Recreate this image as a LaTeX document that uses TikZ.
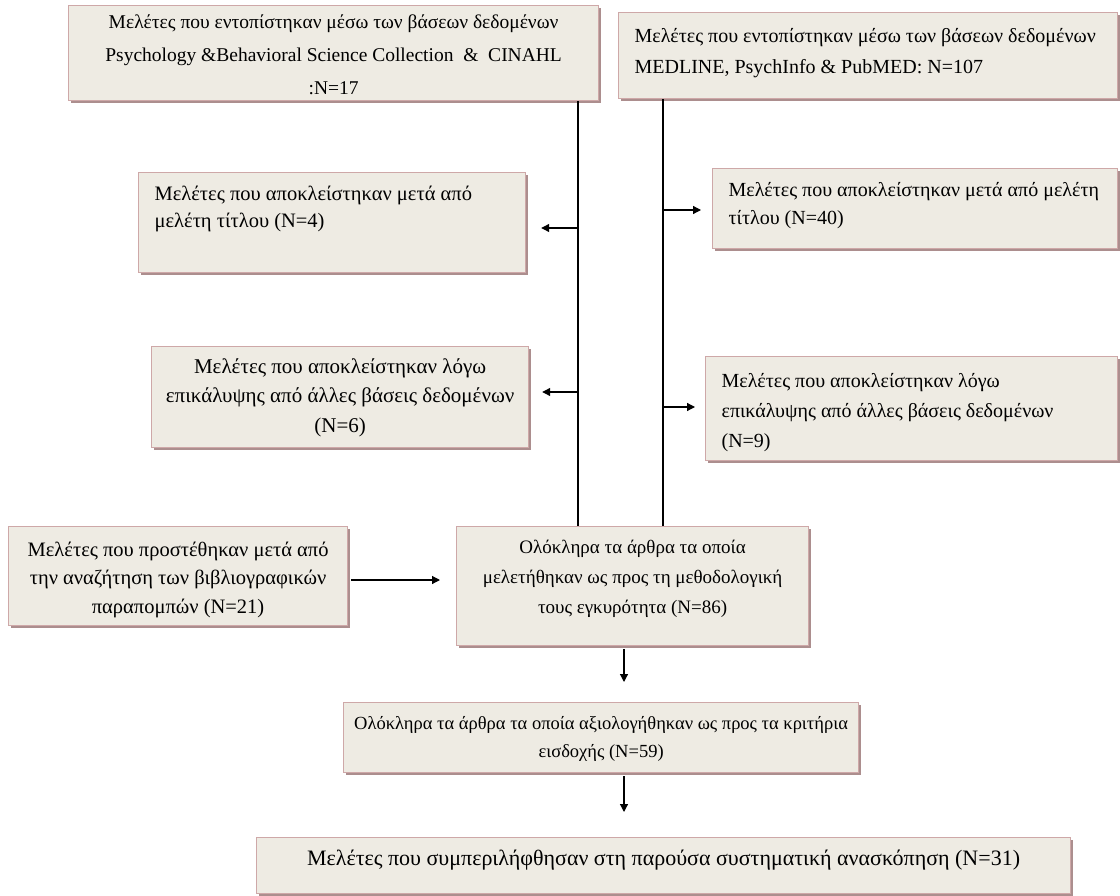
\documentclass[tikz,border=0pt]{standalone}
\usepackage{fontspec}
\setmainfont{Liberation Serif}
\usetikzlibrary{arrows.meta,shadows}
\definecolor{boxfill}{RGB}{238,235,227}
\definecolor{boxline}{RGB}{206,168,168}
\definecolor{boxshadow}{RGB}{172,142,142}
% centred text: width, height, top pad, font size, baseline skip, text
\newcommand\cbx[6]{\parbox[c][#2pt][t]{#1pt}{\fontsize{#4}{#5}\selectfont\centering
  \leftskip=8pt plus 1fil\rightskip=8pt plus 1fil\vspace*{#3pt}#6}}
% left-aligned text
\newcommand\lbx[6]{\parbox[c][#2pt][t]{#1pt}{\fontsize{#4}{#5}\selectfont\raggedright
  \leftskip=16pt\rightskip=2pt plus 1fil\vspace*{#3pt}#6}}
\tikzset{
  bx/.style={draw=boxline, fill=boxfill, line width=1.2pt, inner sep=0pt,
    anchor=north west,
    drop shadow={shadow xshift=2.5pt, shadow yshift=-2.5pt, fill=boxshadow, opacity=1}},
  ln/.style={draw=black, line width=1.2pt},
  arr/.style={ln, -{Triangle[length=8pt,width=8pt]}}
}
\begin{document}
\begin{tikzpicture}[x=1pt,y=-1pt]
\useasboundingbox (0,0) rectangle (1120,896);
\node[bx] (A) at (68,5) {\cbx{530}{95}{9}{19.5}{33}{Μελέτες που εντοπίστηκαν μέσω των βάσεων δεδομένων\\ Psychology \&Behavioral Science Collection\ \ \&\ \ CINAHL\\ :N=17}};
\node[bx] (B) at (618,12) {\lbx{499}{86}{16}{20}{31}{Μελέτες που εντοπίστηκαν μέσω των βάσεων δεδομένων\\ MEDLINE, PsychInfo \& PubMED: N=107}};
\node[bx] (C) at (138,172) {\lbx{387}{100}{13}{20.5}{27}{Μελέτες που αποκλείστηκαν μετά από\\ μελέτη τίτλου (N=4)}};
\node[bx] (D) at (712,168) {\lbx{405}{80}{14}{20}{28}{Μελέτες που αποκλείστηκαν μετά από μελέτη\\ τίτλου (N=40)}};
\node[bx] (E) at (151,346) {\cbx{377}{101}{12}{21}{29.5}{Μελέτες που αποκλείστηκαν λόγω\\ επικάλυψης από άλλες βάσεις δεδομένων\\ (N=6)}};
\node[bx] (F) at (705,356) {\lbx{412}{104}{17}{20}{30}{Μελέτες που αποκλείστηκαν λόγω\\ επικάλυψης από άλλες βάσεις δεδομένων\\ (N=9)}};
\node[bx] (J) at (8,526) {\cbx{339}{99}{15}{20.5}{28.5}{Μελέτες που προστέθηκαν μετά από\\ την αναζήτηση των βιβλιογραφικών\\ παραπομπών (N=21)}};
\node[bx] (G) at (456,526) {\cbx{352}{119}{14}{19}{30}{Ολόκληρα τα άρθρα τα οποία\\ μελετήθηκαν ως προς τη μεθοδολογική\\ τους εγκυρότητα (N=86)}};
\node[bx] (H) at (343,702) {\cbx{515}{70}{14}{18.5}{28}{Ολόκληρα τα άρθρα τα οποία αξιολογήθηκαν ως προς τα κριτήρια\\ εισδοχής (N=59)}};
\node[bx] (I) at (256,837) {\cbx{814}{56}{12.5}{22}{28}{Μελέτες που συμπεριλήφθησαν στη παρούσα συστηματική ανασκόπηση (N=31)}};
% trunks
\coordinate (tl) at (578,0);
\coordinate (tr) at (663,0);
\draw[ln] (A.south -| tl) -- (G.north -| tl);
\draw[ln] (B.south -| tr) -- (G.north -| tr);
% branches
\coordinate (bc) at (578,228);
\coordinate (bd) at (663,210);
\coordinate (be) at (578,392);
\coordinate (bf) at (663,407);
\draw[arr, shorten >=15pt] (bc) -- (C.east |- bc);
\draw[arr, shorten >=11pt] (bd) -- (D.west |- bd);
\draw[arr, shorten >=13pt] (be) -- (E.east |- be);
\draw[arr, shorten >=10pt] (bf) -- (F.west |- bf);
\coordinate (bj) at (0,580);
\draw[arr, shorten <=3pt, shorten >=16pt] (J.east |- bj) -- (G.west |- bj);
\coordinate (vx) at (624,0);
\draw[arr, shorten <=3pt, shorten >=20pt] (G.south -| vx) -- (H.north -| vx);
\draw[arr, shorten <=3pt, shorten >=25pt] (H.south -| vx) -- (I.north -| vx);
\end{tikzpicture}
\end{document}
